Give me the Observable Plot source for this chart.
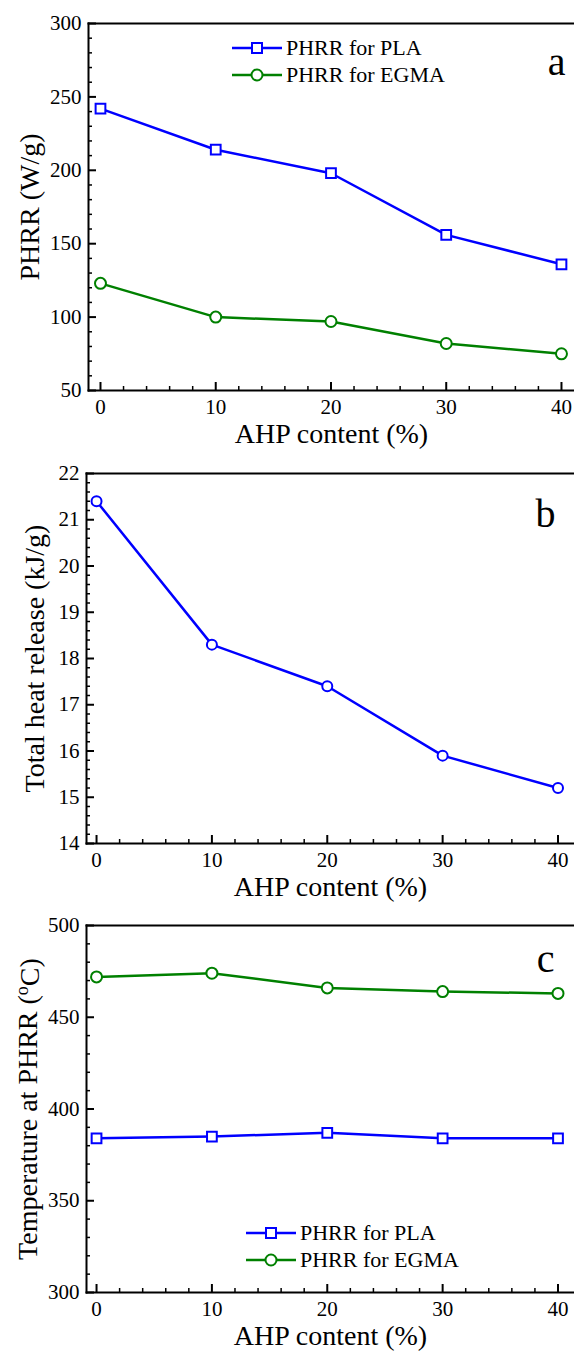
<!DOCTYPE html>
<html><head><meta charset="utf-8">
<script src="https://cdn.jsdelivr.net/npm/d3@7"></script>
<script src="https://cdn.jsdelivr.net/npm/@observablehq/plot@0.6"></script>
<style>
body{margin:0;background:#fff;}
#wrap{position:relative;width:574px;height:1353px;font-family:"Liberation Serif","Times New Roman",serif;overflow:hidden;}
#wrap svg{display:block;}
.legend{position:absolute;font-size:22px;color:#000;line-height:26px;}
.row{display:flex;align-items:center;height:27px;white-space:nowrap;}
.row svg{margin-right:4px;}
</style></head><body><div id="wrap"></div>
<script>
// ---- data ----
const ahp = [0, 10, 20, 30, 40];
const phrrPLA = [242, 214, 198, 156, 136];
const phrrEGMA = [123, 100, 97, 82, 75];
const totalHeat = [21.4, 18.3, 17.4, 15.9, 15.2];
const tempPLA = [384, 385, 387, 384, 384];
const tempEGMA = [472, 474, 466, 464, 463];
const xTicks = [0, 10, 20, 30, 40];
const yTicksA = [50, 100, 150, 200, 250, 300];
const yTicksB = [14, 15, 16, 17, 18, 19, 20, 21, 22];
const yTicksC = [300, 350, 400, 450, 500];
const seriesNames = ["PHRR for PLA", "PHRR for EGMA"];
const BLUE = "#0000ff", GREEN = "#008000";
const FONT = "'Liberation Serif', 'Times New Roman', serif";

const wrap = document.getElementById("wrap");

function rows(ys, name, color, symbol) {
  return ahp.map((x, i) => ({x, y: ys[i], name, color, symbol}));
}

function panel(o) {
  const minorX = d3.range(0, 41, 2).filter(v => v % 10 !== 0);
  const minorY = d3.range(o.ydom[0], o.ydom[1] + 1e-9, o.yMinor).map(v => +v.toFixed(4)).filter(v => !o.yMajor.some(m => Math.abs(m - v) < 1e-6));
  const marks = [
    Plot.frame({anchor: "left", strokeWidth: 2}),
    Plot.frame({anchor: "top", strokeWidth: 2}),
    Plot.frame({anchor: "bottom", strokeWidth: 2}),
    Plot.axisY(o.yMajor, {tickSize: -8, tickPadding: 15, strokeWidth: 2, fontSize: 21, fontFamily: FONT, label: null, fill: "#000"}),
    Plot.axisY(minorY, {tickSize: -4, strokeWidth: 1.5, tickFormat: () => "", label: null}),
    Plot.axisX(xTicks, {tickSize: -8, tickPadding: 17, strokeWidth: 2, fontSize: 21, fontFamily: FONT, label: null, fill: "#000"}),
    Plot.axisX(minorX, {tickSize: -4, strokeWidth: 1.5, tickFormat: () => "", label: null}),
  ];
  for (const s of o.series) {
    marks.push(Plot.line(s, {x: "x", y: "y", stroke: s[0].color, strokeWidth: 2.5}));
  }
  for (const s of o.series) {
    marks.push(Plot.dot(s, {x: "x", y: "y", stroke: s[0].color, fill: "white", strokeWidth: 2,
      symbol: s[0].symbol, r: s[0].symbol === "square" ? 5.5 : o.dotR}));
  }
  marks.push(Plot.text([o.letter], {frameAnchor: "top-right", dx: o.letterDx, dy: o.letterDy, fontSize: 40, fontFamily: FONT, textAnchor: "middle", fill: "#000"}));
  marks.push(Plot.text([o.ytitle], {frameAnchor: "left", rotate: -90, dx: o.ytitleDx, fontSize: 28, fontFamily: FONT, fill: "#000", textAnchor: "middle"}));
  marks.push(Plot.text(["AHP content (%)"], {frameAnchor: "bottom", dy: o.xtitleDy, fontSize: 28, fontFamily: FONT, fill: "#000", textAnchor: "middle"}));
  return Plot.plot({
    width: 574, height: o.height,
    marginTop: o.mt, marginBottom: o.mb, marginLeft: o.ml, marginRight: 0,
    style: {fontFamily: FONT, color: "#000", background: "white", overflow: "visible"},
    x: {domain: o.xdom},
    y: {domain: o.ydom},
    marks
  });
}

// Panel a
const chartA = panel({
  height: 455, mt: 23, mb: 65, ml: 88,
  xdom: [-1.04, 41.13], ydom: [50, 300], yMajor: yTicksA, yMinor: 10, dotR: 5.5,
  series: [rows(phrrPLA, seriesNames[0], BLUE, "square"), rows(phrrEGMA, seriesNames[1], GREEN, "circle")],
  letter: "a", letterDx: -18, letterDy: 23,
  ytitle: "PHRR (W/g)", ytitleDx: -58, xtitleDy: 52
});
// Panel b
const chartB = panel({
  height: 450, mt: 18, mb: 62, ml: 86,
  xdom: [-0.87, 41.43], ydom: [14, 22], yMajor: yTicksB, yMinor: 0.2, dotR: 5,
  series: [rows(totalHeat, "THR", BLUE, "circle")],
  letter: "b", letterDx: -29, letterDy: 25,
  ytitle: "Total heat release (kJ/g)", ytitleDx: -51, xtitleDy: 52
});
// Panel c
const chartC = panel({
  height: 448, mt: 20, mb: 61, ml: 86,
  xdom: [-0.87, 41.43], ydom: [300, 500], yMajor: yTicksC, yMinor: 10, dotR: 5.5,
  series: [rows(tempPLA, seriesNames[0], BLUE, "square"), rows(tempEGMA, seriesNames[1], GREEN, "circle")],
  letter: "c", letterDx: -29, letterDy: 18,
  ytitle: "Temperature at PHRR (oC)", ytitleDx: -58, xtitleDy: 52
});

wrap.append(chartA, chartB, chartC);

// superscript o in panel c title
for (const t of chartC.querySelectorAll("text")) {
  if (t.textContent === "Temperature at PHRR (oC)") {
    t.textContent = "Temperature at PHRR (";
    const s = document.createElementNS("http://www.w3.org/2000/svg", "tspan");
    s.setAttribute("dy", "-0.55em"); s.setAttribute("font-size", "18"); s.textContent = "o";
    const r = document.createElementNS("http://www.w3.org/2000/svg", "tspan");
    r.setAttribute("dy", "0.4em"); r.textContent = "C)";
    t.append(s, r);
  }
}

// legends
function legend(left, top) {
  const div = document.createElement("div");
  div.className = "legend";
  div.style.left = left + "px"; div.style.top = top + "px";
  const items = [[seriesNames[0], BLUE, "square"], [seriesNames[1], GREEN, "circle"]];
  for (const [name, color, sym] of items) {
    const row = document.createElement("div"); row.className = "row";
    const marker = sym === "square"
      ? `<rect x="20" y="3" width="10" height="10" fill="white" stroke="${color}" stroke-width="2"/>`
      : `<circle cx="25" cy="8" r="5.5" fill="white" stroke="${color}" stroke-width="2"/>`;
    row.innerHTML = `<svg width="50" height="16"><line x1="0" x2="50" y1="8" y2="8" stroke="${color}" stroke-width="2.5"/>${marker}</svg><span>${name}</span>`;
    div.append(row);
  }
  wrap.append(div);
}
legend(232, 34);
legend(246, 1219);
</script></body></html>
